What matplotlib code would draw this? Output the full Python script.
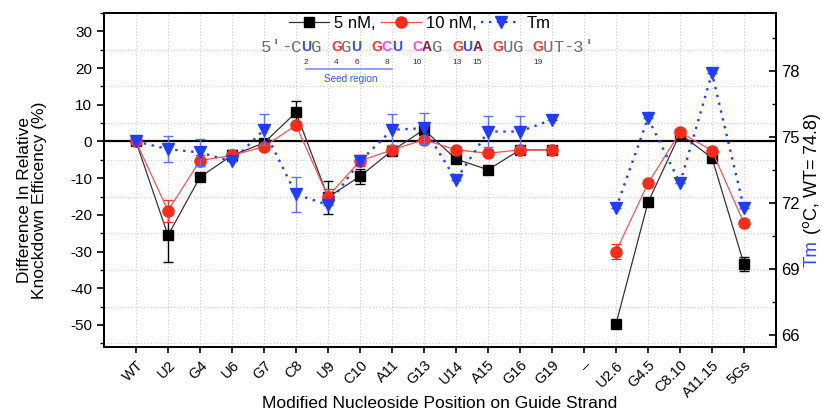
import numpy as np
import matplotlib
matplotlib.use("Agg")
import matplotlib.pyplot as plt
from matplotlib.ticker import MultipleLocator
from matplotlib.lines import Line2D

plt.rcParams['font.family'] = ['Liberation Sans', 'DejaVu Sans']
plt.rcParams['axes.unicode_minus'] = False

nan = np.nan
labels = ['WT', 'U2', 'G4', 'U6', 'G7', 'C8', 'U9', 'C10', 'A11', 'G13', 'U14',
          'A15', 'G16', 'G19', '–', 'U2.6', 'G4.5', 'C8.10', 'A11.15', '5Gs']

# difference in knockdown efficiency (%)
kd_5nm = [0, -25.6, -9.7, -3.8, -0.4, 7.9, -15.2, -9.5, -2.5, 3.2, -4.8,
          -7.7, -2.3, -2.3, nan, -49.7, -16.6, 2.1, -4.5, -33.4]
kd_5nm_err = [0, 7.3, 1.0, 1.5, 0.5, 3.0, 4.5, 2.0, 1.0, 1.5, 1.0,
              0.5, 0.5, 0.5, nan, 0.5, 1.0, 1.0, 1.0, 1.8]
kd_10nm = [0, -18.9, -5.2, -3.8, -1.4, 4.4, -15.0, -5.3, -2.3, 0.5, -2.3,
           -3.2, -2.3, -2.3, nan, -30.0, -11.4, 2.5, -2.5, -22.3]
kd_10nm_err = [0, 3.0, 1.5, 0.8, 0.5, 1.0, 2.0, 1.5, 0.5, 0.5, 0.5,
               0.5, 0.5, 0.5, nan, 2.0, 0.8, 0.5, 0.5, 0.5]

# melting temperature (deg C)
tm_wt = 74.8
tm = [74.8, 74.45, 74.3, 73.9, 75.33, 72.4, 71.92, 73.9, 75.33, 75.4, 73.06,
      75.25, 75.25, 75.79, nan, 71.77, 75.86, 72.9, 77.9, 71.77]
tm_err = [0, 0.6, 0.6, 0, 0.7, 0.8, 0, 0, 0.7, 0.7, 0,
          0.7, 0.7, 0, nan, 0, 0, 0, 0, 0]

seq = "5'-CUG GGU GCU CAG GUA GUG GUT-3'"
seq_codes = "ggggbg rgb rmb mdg rbd rgg rggggg"
seq_numbers = [2, 4, 6, 8, 10, 13, 15, 19]
seq_colors = {'g': '#6e6e6e', 'r': '#ff3333', 'b': '#2f4cff',
              'm': '#ff44ff', 'd': '#8e1f3c'}

W, H = 822, 413
fig = plt.figure(figsize=(W / 100, H / 100), dpi=100)
ax = fig.add_axes([104 / W, 1 - 347 / H, (776 - 104) / W, (347 - 13) / H])

x = np.arange(len(labels))
ylim = (-56, 35)

ax.axhline(0, color='k', lw=1.6, zorder=1)
ax.errorbar(x, kd_5nm, yerr=kd_5nm_err, color='#333333', lw=0.9, marker='s',
            ms=7, mfc='k', mec='k', ecolor='k', elinewidth=1, capsize=3.5,
            capthick=1, zorder=3)
ax.errorbar(x, kd_10nm, yerr=kd_10nm_err, color='#ff5050', lw=0.9, marker='o',
            ms=8, mfc='#ff2a1a', mec='#ff2a1a', ecolor='#ff3030', elinewidth=1,
            capsize=3.5, capthick=1, zorder=4)

ax.set_xlim(-1, len(labels))
ax.set_ylim(*ylim)
ax.set_xticks(x)
ax.set_xticklabels(labels, rotation=45, ha='right', rotation_mode='anchor',
                   fontsize=10.5)
ax.yaxis.set_major_locator(MultipleLocator(10))
ax.yaxis.set_minor_locator(MultipleLocator(5))
ax.tick_params(axis='y', which='major', direction='out', length=5, width=1.2,
               labelsize=11)
ax.tick_params(axis='y', which='minor', direction='out', length=3, width=1.0)
ax.tick_params(axis='x', which='major', direction='out', length=4, width=1.2,
               pad=4)
ax.yaxis.grid(True, which='minor', color='#d2d2d2', ls=':', lw=0.9)
ax.xaxis.grid(True, which='major', color='#d2d2d2', ls=':', lw=0.9)
ax.set_axisbelow(True)
for s in ax.spines.values():
    s.set_linewidth(1.4)

ax2 = ax.twinx()
ax2.errorbar(x, tm, yerr=tm_err, color='#1f3dff', lw=1.7, ls=(0, (1, 2.4)),
             marker='v', ms=8.5, mfc='#1f3dff', mec='#1f3dff', ecolor='#5a72ff',
             elinewidth=1, capsize=3.5, capthick=1, zorder=2)
ax2.set_ylim(tm_wt + ylim[0] / 6, tm_wt + ylim[1] / 6)
ax2.yaxis.set_major_locator(MultipleLocator(3))
ax2.yaxis.set_minor_locator(MultipleLocator(1.5))
ax2.tick_params(axis='y', which='major', direction='in', length=5, width=1.2,
                labelsize=12, pad=4)
ax2.tick_params(axis='y', which='minor', direction='in', length=3, width=1.0)
for s in ax2.spines.values():
    s.set_linewidth(1.4)

handles = [
    Line2D([], [], color='#333333', lw=0.9, marker='s', ms=7, mfc='k', mec='k'),
    Line2D([], [], color='#ff5050', lw=0.9, marker='o', ms=8, mfc='#ff2a1a',
           mec='#ff2a1a'),
    Line2D([], [], color='#1f3dff', lw=1.7, ls=(0, (1, 2.4)), marker='v',
           ms=8.5, mfc='#1f3dff', mec='#1f3dff'),
]
ax2.legend(handles, ['5 nM,', '10 nM,', 'Tm'], ncol=3, frameon=False,
           loc='center', bbox_to_anchor=(0.47, 0.968), fontsize=12,
           handlelength=2.4, handletextpad=0.3, columnspacing=0.3,
           borderaxespad=0)


def px(xp, yp):
    return xp / W, 1 - yp / H


# sequence annotation
x0, pitch, y_seq = 265.8, 10.08, 47
for i, (ch, code) in enumerate(zip(seq, seq_codes)):
    if ch == ' ':
        continue
    if code == 'g':
        fig.text(*px(x0 + i * pitch, y_seq), ch, color=seq_colors[code],
                 family='Liberation Mono', fontsize=12.5, ha='center',
                 va='center')
    else:
        fig.text(*px(x0 + i * pitch, y_seq), ch, color=seq_colors[code],
                 fontsize=10, fontweight='bold', ha='center', va='center')

letter_idx = [i for i, c in enumerate(seq) if c in 'ACGUT' and i >= 3]
for n in seq_numbers:
    fig.text(*px(x0 + letter_idx[n - 1] * pitch, 63), str(n), fontsize=6,
             color='#333333', ha='center', va='center')

fig.add_artist(Line2D([306 / W, 392 / W], [1 - 69 / H, 1 - 69 / H],
                      color='#7f8cff', lw=1.2))
fig.text(*px(351, 78.5), 'Seed region', fontsize=7.2, color='#3a55ff',
         ha='center', va='center')

# axis labels
fig.text(*px(32, 200), 'Difference In Relative\nKnockdown Efficency (%)',
         rotation=90, ha='center', va='center', fontsize=12.5,
         linespacing=1.05)
fig.text(*px(440, 403), 'Modified Nucleoside Position on Guide Strand',
         ha='center', va='center', fontsize=12.5)
fig.text(*px(812, 240), 'Tm', rotation=90, ha='center', va='top',
         fontsize=13.5, color='#2f4cff')
fig.text(*px(812, 240), r' ($^{\mathrm{o}}$C, WT= 74.8)', rotation=90,
         ha='center', va='bottom', fontsize=13)

fig.savefig('out.png', dpi=100)
